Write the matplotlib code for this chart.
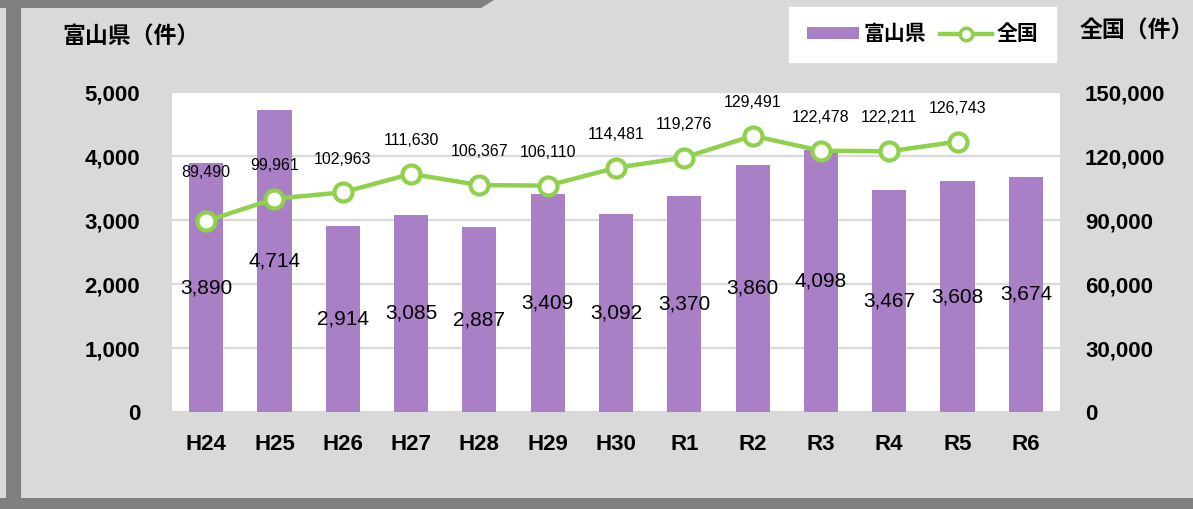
import matplotlib.pyplot as plt
from matplotlib.patches import Polygon, Rectangle
from matplotlib.lines import Line2D
from matplotlib.ticker import FuncFormatter

# data
years = ["H24", "H25", "H26", "H27", "H28", "H29", "H30",
         "R1", "R2", "R3", "R4", "R5", "R6"]
toyama = [3890, 4714, 2914, 3085, 2887, 3409, 3092, 3370, 3860, 4098, 3467, 3608, 3674]
national = [89490, 99961, 102963, 111630, 106367, 106110, 114481,
            119276, 129491, 122478, 122211, 126743]

purple = "#a97fc6"
green = "#8fd14a"
dark = "#7f7f7f"
bg = "#d9d9d9"

plt.rcParams['font.family'] = ['Liberation Sans', 'Noto Sans CJK JP']

W, H = 1193, 509
fig = plt.figure(figsize=(W / 100, H / 100), dpi=100, facecolor=bg)

# frame decorations (pixel -> figure fraction)
def px(x, y):
    return (x / W, 1 - y / H)

fig.patches.append(Polygon([px(0, 0), px(494, 0), px(481, 8), px(0, 8)],
                           closed=True, transform=fig.transFigure,
                           facecolor=dark, edgecolor="none"))
fig.patches.append(Rectangle(px(6, 509), 15 / W, 501 / H, transform=fig.transFigure,
                             facecolor=dark, edgecolor="none"))
fig.patches.append(Rectangle(px(0, 509), 1, 11 / H, transform=fig.transFigure,
                             facecolor=dark, edgecolor="none"))

ax = fig.add_axes([172 / W, (H - 412) / H, 888 / W, 320 / H])
ax.set_facecolor("white")
x = list(range(len(years)))
bars = ax.bar(x, toyama, width=0.5, color=purple, zorder=2, label="富山県")
ax.set_xlim(-0.5, len(years) - 0.5)
ax.set_ylim(0, 5000)
ax.set_yticks(range(0, 5001, 1000))
ax.yaxis.set_major_formatter(FuncFormatter(lambda v, p: f"{int(v):,}"))
ax.grid(axis="y", color=bg, linewidth=1.6, zorder=0)
ax.set_xticks(x)
ax.set_xticklabels(years)
for s in ax.spines.values():
    s.set_visible(False)
ax.tick_params(axis="y", length=0, pad=23, labelsize=16)
ax.tick_params(axis="x", length=0, pad=16, labelsize=16)
for t in ax.get_yticklabels() + ax.get_xticklabels():
    t.set_fontweight("bold")
ax.bar_label(bars, labels=[f"{v:,}" for v in toyama], label_type="center",
             fontsize=15, color="black")

ax2 = ax.twinx()
ax2.patch.set_visible(False)
ax2.plot(x[:len(national)], national, color=green, linewidth=3.2,
         marker="o", markersize=13, markerfacecolor="white",
         markeredgecolor=green, markeredgewidth=3, zorder=3, label="全国")
ax2.set_ylim(0, 150000)
ax2.set_yticks(range(0, 150001, 30000))
ax2.yaxis.set_major_formatter(FuncFormatter(lambda v, p: f"{int(v):,}"))
for s in ax2.spines.values():
    s.set_visible(False)
ax2.tick_params(axis="y", length=0, pad=18, labelsize=16)
for t in ax2.get_yticklabels():
    t.set_fontweight("bold")
for i, v in enumerate(national):
    off = 35 if i == 0 else 24
    ax2.annotate(f"{v:,}", (i, v), xytext=(0, off), textcoords="offset points",
                 ha="center", va="center", fontsize=11.5)

# axis titles
fig.text(62 / W, 1 - 37 / H, "富山県（件）", fontsize=16.5, fontweight="bold",
         ha="left", va="center")
fig.text(1080 / W, 1 - 31 / H, "全国（件）", fontsize=16.5, fontweight="bold",
         ha="left", va="center")

# legend
h_bar = Rectangle((0, 0), 1, 1, facecolor=purple, edgecolor="none")
h_line = Line2D([], [], color=green, linewidth=3.2, marker="o", markersize=9,
                markerfacecolor="white", markeredgecolor=green, markeredgewidth=2.5)
leg = fig.legend([h_bar, h_line], ["富山県", "全国"], loc="upper right",
                 bbox_to_anchor=px(1056, 7), ncol=2, frameon=True, fancybox=False,
                 facecolor="white", edgecolor="white", framealpha=1,
                 handlelength=2.5, handleheight=0.45, handletextpad=0.2,
                 columnspacing=0.7, borderpad=0.85, borderaxespad=0,
                 prop={"size": 15, "weight": "bold"})

fig.savefig("out.png", dpi=100, facecolor=bg)
